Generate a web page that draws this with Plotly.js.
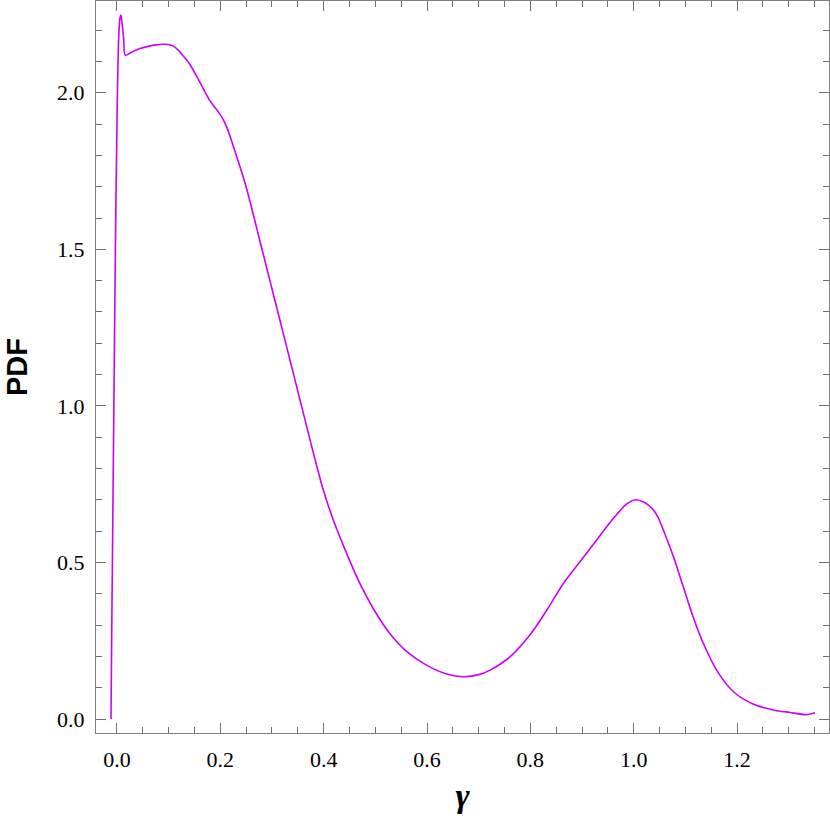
<!DOCTYPE html>
<html>
<head>
<meta charset="utf-8">
<script src="https://cdn.plot.ly/plotly-3.0.1.min.js"></script>
<style>
  html, body { margin: 0; padding: 0; background: #fff; }
  #graph { width: 830px; height: 834px; }
</style>
</head>
<body>
<div id="graph"></div>
<script>
// gamma values
var gammaVals = [-0.0116, -0.010, -0.008, -0.006, -0.004, -0.002, 0.0, 0.002, 0.004, 0.006, 0.0077, 0.010, 0.013, 0.016,
  0.030, 0.0445, 0.060, 0.075, 0.0897, 0.100, 0.109, 0.118, 0.128, 0.141, 0.1606, 0.180, 0.192, 0.203, 0.213, 0.222, 0.232,
  0.2445, 0.257, 0.270, 0.283, 0.296, 0.309, 0.322, 0.335, 0.348, 0.362, 0.380, 0.399, 0.419, 0.4445, 0.470, 0.496,
  0.528, 0.561, 0.599, 0.638, 0.670, 0.7025, 0.722, 0.761, 0.799, 0.832, 0.864, 0.896, 0.928, 0.9605, 0.986, 1.004,
  1.020, 1.036, 1.047, 1.057, 1.077, 1.096, 1.115, 1.135, 1.1605, 1.193, 1.231, 1.270, 1.3025, 1.335, 1.351];
// PDF values at those points
var pdfVals = [0.0, 0.30, 0.65, 1.00, 1.35, 1.65, 1.90, 2.10, 2.20, 2.24, 2.248, 2.22, 2.17, 2.12,
  2.131, 2.141, 2.148, 2.153, 2.155, 2.154, 2.149, 2.137, 2.118, 2.091, 2.033, 1.974, 1.948, 1.922, 1.888, 1.845, 1.795,
  1.730, 1.656, 1.570, 1.485, 1.400, 1.315, 1.230, 1.145, 1.060, 0.968, 0.850, 0.733, 0.634, 0.529, 0.433, 0.353,
  0.273, 0.215, 0.172, 0.1435, 0.135, 0.1425, 0.156, 0.199, 0.268, 0.348, 0.433, 0.502, 0.571, 0.640, 0.686, 0.700,
  0.692, 0.672, 0.645, 0.605, 0.518, 0.422, 0.326, 0.241, 0.156, 0.087, 0.048, 0.029, 0.021, 0.014, 0.020];

var xTicks = [0.0, 0.2, 0.4, 0.6, 0.8, 1.0, 1.2];
var xTickText = ['0.0', '0.2', '0.4', '0.6', '0.8', '1.0', '1.2'];
var yTicks = [0.0, 0.5, 1.0, 1.5, 2.0];
var yTickText = ['0.0', '0.5', '1.0', '1.5', '2.0'];

var serif = 'Times New Roman';

var trace = {
  x: gammaVals,
  y: pdfVals,
  mode: 'lines',
  line: { color: '#cc00ff', width: 1.6, shape: 'spline', smoothing: 0.8 },
  hoverinfo: 'skip'
};

var axisStyle = {
  showgrid: false,
  zeroline: false,
  showline: true,
  linecolor: '#808080',
  linewidth: 1,
  mirror: 'ticks',
  ticks: 'inside',
  ticklen: 10,
  tickwidth: 1,
  tickcolor: '#707070',
  tickfont: { family: serif, size: 22, color: '#000' }
};

var layout = {
  width: 830,
  height: 834,
  margin: { l: 96, r: 1, t: 1, b: 101 },
  paper_bgcolor: '#fff',
  plot_bgcolor: '#fff',
  showlegend: false,
  xaxis: Object.assign({}, axisStyle, {
    range: [-0.0406, 1.378],
    tickvals: xTicks,
    ticktext: xTickText,
    ticklabelstandoff: 7,
    minor: { dtick: 0.05, tick0: 0, ticks: 'inside', ticklen: 6, tickcolor: '#707070', showgrid: false },
    title: { text: '<b><i>γ</i></b>', font: { family: serif, size: 34, color: '#000' }, standoff: 11 }
  }),
  yaxis: Object.assign({}, axisStyle, {
    range: [-0.0447, 2.293],
    tickvals: yTicks,
    ticktext: yTickText,
    ticklabelstandoff: 6,
    minor: { dtick: 0.1, tick0: 0, ticks: 'inside', ticklen: 6, tickcolor: '#707070', showgrid: false },
    title: { text: '<b>PDF</b>', font: { family: 'Arial', size: 29, color: '#000' }, standoff: 20 }
  })
};

Plotly.newPlot('graph', [trace], layout, { displayModeBar: false, staticPlot: true });
</script>
</body>
</html>
